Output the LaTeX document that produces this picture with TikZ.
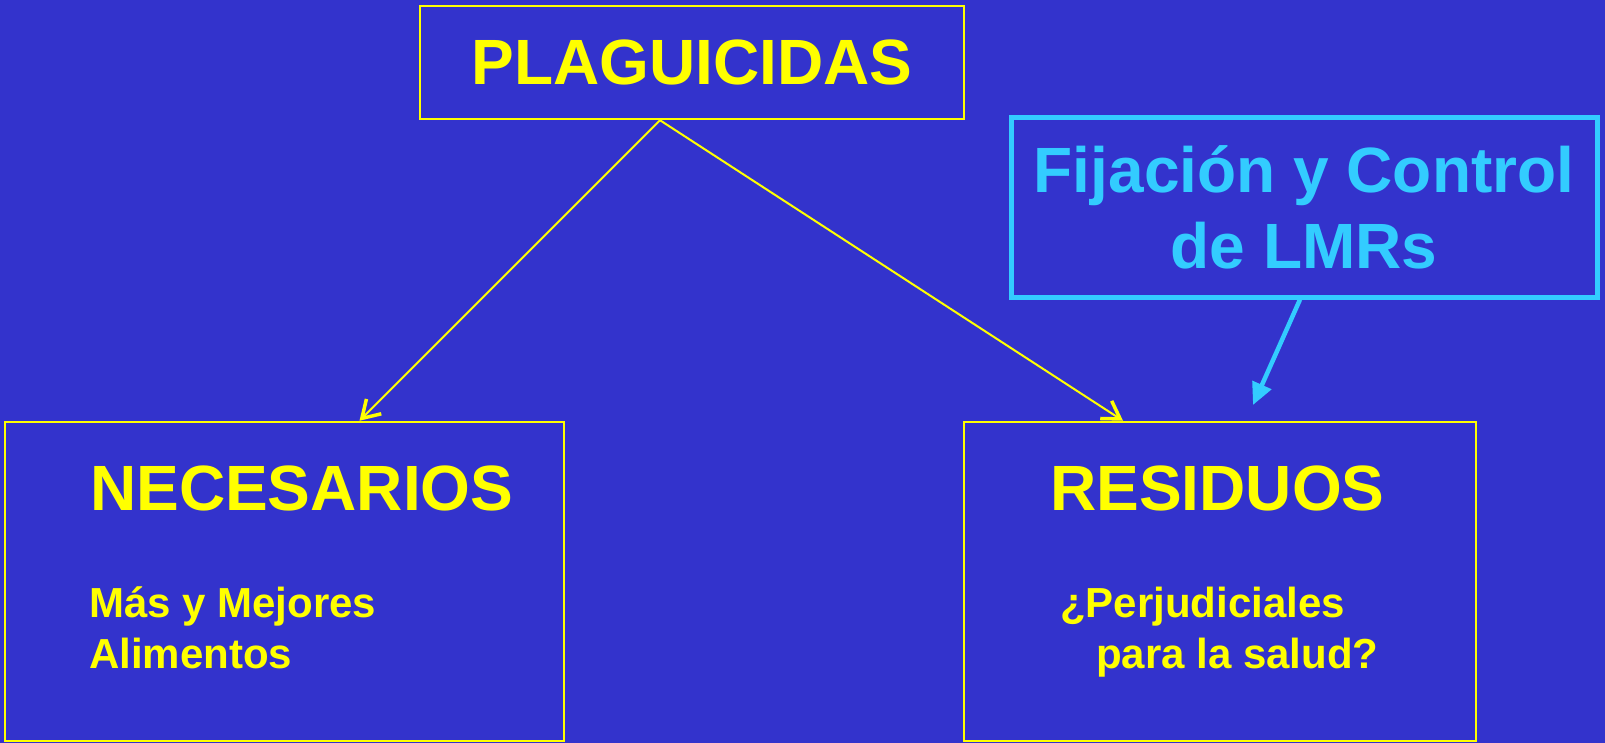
\documentclass[tikz,border=0pt]{standalone}
\usepackage{fontspec}
\setmainfont{Liberation Sans}
\usetikzlibrary{arrows.meta}
\definecolor{fondo}{RGB}{51,51,204}
\definecolor{amarillo}{RGB}{255,255,0}
\definecolor{celeste}{RGB}{51,204,255}
\tikzset{
  caja/.style={draw=amarillo,line width=2.5pt,inner sep=0pt,text=amarillo},
  grande/.style={font=\bfseries\fontsize{64}{76}\selectfont},
  chico/.style={font=\bfseries\fontsize{42}{51}\selectfont,text=amarillo,inner sep=0pt,anchor=base west},
  flecha/.style={draw=amarillo,line width=2pt,-{Straight Barb[length=17pt,width=21pt,line width=3.5pt]}}
}
\begin{document}
\begin{tikzpicture}[x=1pt,y=-1pt]
 \fill[fondo] (0,0) rectangle (1605,743);
 \useasboundingbox (0,0) rectangle (1605,743);
 % cajas
 \node[caja,grande,minimum width=544pt,minimum height=113pt] (plag) at (692,62.5) {PLAGUICIDAS};
 \node[caja,draw=celeste,text=celeste,line width=5pt,grande,align=center,
   minimum width=586pt,minimum height=179pt] (fij) at (1304,207.5) {Fijación y Control\\de LMRs};
 \node[caja,minimum width=559pt,minimum height=319pt] (nec) at (284.5,581.5) {};
 \node[caja,minimum width=512pt,minimum height=319pt] (res) at (1220,581.5) {};
 % textos
 \node[chico,grande] (necT) at (90,510) {NECESARIOS};
 \node[chico,grande] (resT) at (1050,510) {RESIDUOS};
 \node[chico] (mas) at (89,617) {Más y Mejores};
 \node[chico] (ali) at (89,668) {Alimentos};
 \node[chico] (per) at (1060,617) {¿Perjudiciales};
 \node[chico] (sal) at (1096,668) {para la salud?};
 % flechas
 \draw[flecha] ([xshift=-32pt]plag.south) -- ([xshift=75pt]nec.north);
 \draw[flecha] ([xshift=-32pt]plag.south) -- ([xshift=-97pt]res.north);
 \coordinate (lmr) at (1253,405);
 \draw[draw=celeste,line width=4.5pt,-{Triangle[length=22pt,width=20pt]}] ([xshift=-4pt]fij.south) -- (lmr);
\end{tikzpicture}
\end{document}
